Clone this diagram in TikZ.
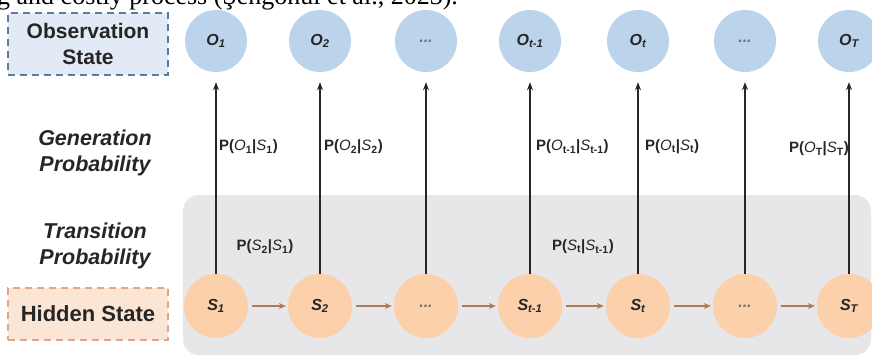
\documentclass[tikz,border=0pt]{standalone}
\usepackage{fontspec}
\setmainfont{Liberation Sans}
\newfontfamily\cutserif{Liberation Serif}
\usetikzlibrary{arrows.meta}
\definecolor{obsfill}{HTML}{BBD4EB}
\definecolor{hidfill}{HTML}{FBD0AA}
\definecolor{bggray}{HTML}{E7E7E9}
\definecolor{obsbox}{HTML}{E2EBF5}
\definecolor{obsdash}{HTML}{5A7BA0}
\definecolor{hidbox}{HTML}{FBE5D5}
\definecolor{hiddash}{HTML}{DDA885}
\definecolor{transarrow}{HTML}{B07A55}
\definecolor{txtdark}{HTML}{262626}
\begin{document}
\begin{tikzpicture}[x=1pt,y=-1pt,
  ocirc/.style={circle,fill=obsfill,minimum size=62pt,inner sep=0pt,text=txtdark,font=\fontsize{16}{18}\selectfont\bfseries\itshape},
  scirc/.style={circle,fill=hidfill,minimum size=64pt,inner sep=0pt,text=txtdark,font=\fontsize{16}{18}\selectfont\bfseries\itshape},
  sidelabel/.style={align=center,text=txtdark,font=\fontsize{21}{26}\selectfont\bfseries},
  sidebox/.style={sidelabel,minimum width=160pt,minimum height=62pt,inner sep=0pt,dashed,dash pattern=on 7pt off 5pt,line width=1.8pt},
  genarrow/.style={draw=black!85,line width=1.1pt,-{Stealth[length=8pt,width=6pt]},shorten >=10pt},
  transarr/.style={draw=transarrow,line width=1.2pt,-{Stealth[length=7pt,width=6pt]},shorten <=4pt,shorten >=2pt},
  problabel/.style={text=txtdark,inner sep=1pt,font=\fontsize{15}{17}\selectfont\bfseries}
]
\useasboundingbox (0,0) rectangle (872,357);
\fill[white] (0,0) rectangle (872,357);
% cut-off line of text at the top
\node[anchor=base west,inner sep=0pt,font=\cutserif\fontsize{26}{30}\selectfont] (cuttext) at (-3,4) {g and costly process (Şengönül et al., 2023).};
% gray background
\fill[bggray,rounded corners=16pt] (183,195) rectangle (871,355);
% side labels
\node[sidebox,draw=obsdash,fill=obsbox] (obslabel) at (88,44) {Observation\\State};
\node[sidelabel,font=\fontsize{21.5}{26}\selectfont\bfseries\itshape] (genlabel) at (95,153) {Generation\\Probability};
\node[sidelabel,font=\fontsize{21.5}{26}\selectfont\bfseries\itshape] (translabel) at (95,246) {Transition\\Probability};
\node[sidebox,draw=hiddash,fill=hidbox,minimum height=52pt,font=\fontsize{22}{26}\selectfont\bfseries] (hidlabel) at (88,314) {Hidden State};
% observation nodes
\node[ocirc] (o1) at (216,41) {O\textsubscript{1}};
\node[ocirc] (o2) at (320,41) {O\textsubscript{2}};
\node[ocirc,text=black!55] (o3) at (426,41) {...};
\node[ocirc] (o4) at (530,41) {O\textsubscript{t-1}};
\node[ocirc] (o5) at (638,41) {O\textsubscript{t}};
\node[ocirc,text=black!55] (o6) at (745,41) {...};
\node[ocirc] (o7) at (849,41) {O\textsubscript{T}};
% hidden nodes
\node[scirc] (s1) at (216,306) {S\textsubscript{1}};
\node[scirc] (s2) at (320,306) {S\textsubscript{2}};
\node[scirc,text=black!55] (s3) at (426,306) {...};
\node[scirc] (s4) at (530,306) {S\textsubscript{t-1}};
\node[scirc] (s5) at (638,306) {S\textsubscript{t}};
\node[scirc,text=black!55] (s6) at (745,306) {...};
\node[scirc] (s7) at (849,306) {S\textsubscript{T}};
% generation arrows
\foreach \i in {1,...,7}{\draw[genarrow] (s\i.north) -- (o\i.south);}
% transition arrows
\foreach \i/\j in {1/2,2/3,3/4,4/5,5/6,6/7}{\draw[transarr] (s\i.east) -- (s\j.west);}
% probability labels
\node[problabel,anchor=west] (p1) at (218,147) {P(\textit{\mdseries O}\textsubscript{1}|\textit{\mdseries S}\textsubscript{1})};
\node[problabel,anchor=west] (p2) at (323,147) {P(\textit{\mdseries O}\textsubscript{2}|\textit{\mdseries S}\textsubscript{2})};
\node[problabel,anchor=west] (p4) at (535,147) {P(\textit{\mdseries O}\textsubscript{t-1}|\textit{\mdseries S}\textsubscript{t-1})};
\node[problabel,anchor=west] (p5) at (644,147) {P(\textit{\mdseries O}\textsubscript{t}|\textit{\mdseries S}\textsubscript{t})};
\node[problabel,anchor=east] (p7) at (850,149) {P(\textit{\mdseries O}\textsubscript{T}|\textit{\mdseries S}\textsubscript{T})};
\node[problabel] (t12) at (265,247) {P(\textit{\mdseries S}\textsubscript{2}|\textit{\mdseries S}\textsubscript{1})};
\node[problabel] (t45) at (583,247) {P(\textit{\mdseries S}\textsubscript{t}|\textit{\mdseries S}\textsubscript{t-1})};
\end{tikzpicture}
\end{document}
